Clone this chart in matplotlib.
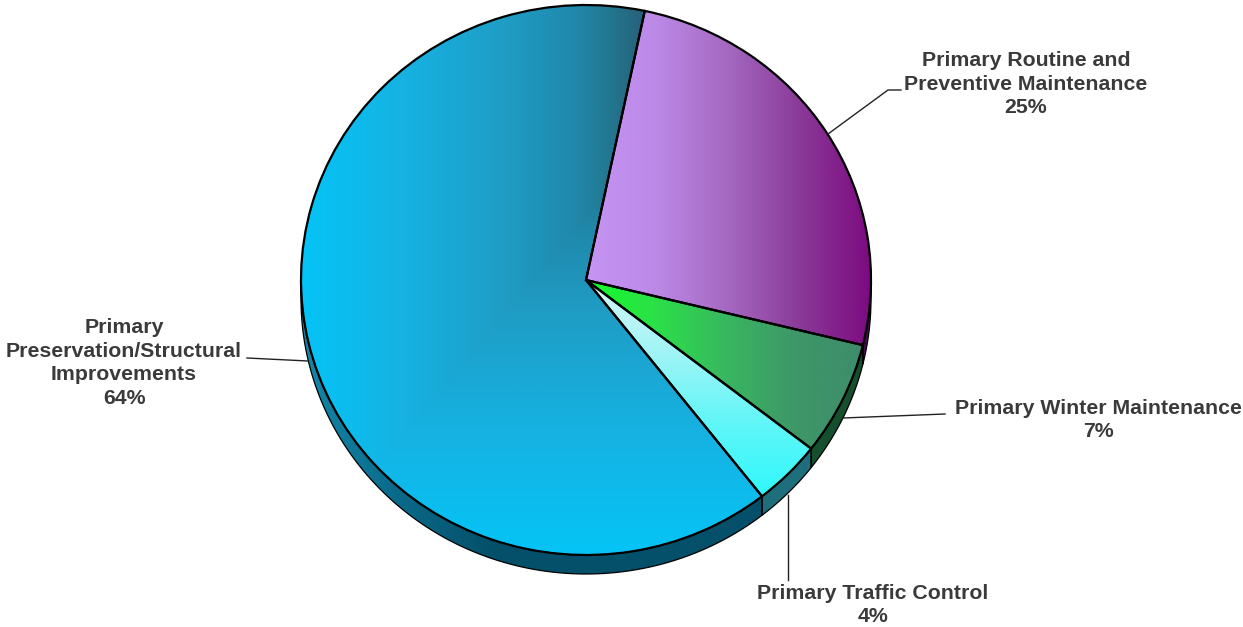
import numpy as np
import matplotlib
matplotlib.use('Agg')
import matplotlib.pyplot as plt
from matplotlib.colors import LinearSegmentedColormap
from matplotlib.lines import Line2D
from matplotlib.patches import Polygon

W, H = 1243, 627
CX, CY, RX, RY, DEPTH = 586, 280, 285, 275, 19

names = ['Primary Routine and\nPreventive Maintenance', 'Primary Winter Maintenance',
         'Primary Traffic Control', 'Primary\nPreservation/Structural\nImprovements']
shares = [25.5, 6.7, 3.9, 63.9]
percents = ['25%', '7%', '4%', '64%']
start_angle = 78.1

plt.rcParams['font.family'] = ['Liberation Sans', 'DejaVu Sans']

fig = plt.figure(figsize=(W / 100, H / 100), dpi=100)
ax = fig.add_axes([0, 0, 1, 1])
wedges, _ = ax.pie(shares, startangle=start_angle, counterclock=False, radius=1,
                   wedgeprops=dict(facecolor='none', edgecolor='black', linewidth=1.6, zorder=5))
ax.set_aspect('auto')
# unit circle maps onto an ellipse in pixels
ax.set_xlim(-CX / RX, (W - CX) / RX)
ax.set_ylim((CY - H) / RY, CY / RY)
ax.axis('off')

xs = (np.arange(W) + 0.5 - CX) / RX
ys = (CY - np.arange(H) - 0.5) / RY
gx, gy = np.meshgrid(xs, ys)
extent = (xs[0], xs[-1], ys[-1], ys[0])


def fill(t, colors, clip, zorder=2):
    cm = LinearSegmentedColormap.from_list('g', colors)
    im = ax.imshow(np.clip(t, 0, 1), cmap=cm, vmin=0, vmax=1, extent=extent, origin='upper',
                   aspect='auto', zorder=zorder, interpolation='bilinear')
    im.set_clip_path(clip)


def arc_edges():
    a = start_angle
    out = []
    for s in shares:
        out.append((a - s * 3.6, a))
        a -= s * 3.6
    return out


def side(a0, a1):
    # rim of a slice, only where the arc faces the viewer
    a0, a1 = a0 % 360, a1 % 360
    if a1 <= a0:
        a1 += 360
    lo, hi = max(a0, 180), min(a1, 360)
    th = np.radians(np.linspace(lo, hi, 120))
    d = DEPTH / RY
    top = np.c_[np.cos(th), np.sin(th)]
    low = np.c_[np.cos(th[::-1]), np.sin(th[::-1]) - d]
    p = Polygon(np.r_[top, low], closed=True, facecolor='none', edgecolor='black',
                linewidth=0.9, zorder=4)
    ax.add_patch(p)
    return p


edges = arc_edges()

# faces
x0, x1 = (586 - CX) / RX, (871 - CX) / RX
fill((gx - x0) / (x1 - x0), ['#c595f4', '#bb88e6', '#a468c0', '#8a3a98', '#7d0a80'], wedges[0])
x1g = (862 - CX) / RX
fill((gx - x0) / (x1g - x0), ['#14fa2a', '#2ce048', '#38b860', '#3e9868', '#3e8c6c'], wedges[1])
y0, y1 = (CY - 281) / RY, (CY - 497) / RY
fill((gy - y0) / (y1 - y0), ['#d8f5f6', '#a0f4f6', '#60f6f8', '#30f8fb'], wedges[2])
# corner style blend for the big slice, darkest at its top right
xr, yt = (645 - CX) / RX, (CY - 146) / RY
t = np.maximum((xr - gx) / (344 / RX), (yt - gy) / (409 / RY))
cmap_pts = [(0, '#266078'), (0.1, '#23768f'), (0.2, '#2088aa'), (0.4, '#1f9cc4'),
            (0.7, '#16b2e2'), (1, '#05c4f6')]
cm = LinearSegmentedColormap.from_list('blue', cmap_pts)
im = ax.imshow(np.clip(t, 0, 1), cmap=cm, vmin=0, vmax=1, extent=extent, origin='upper',
               aspect='auto', zorder=2, interpolation='bilinear')
im.set_clip_path(wedges[3])

# rims
s0 = side(*edges[0])
fill(np.zeros_like(gx), ['#4a0a50', '#4a0a50'], s0)
s1 = side(*edges[1])
fill(np.zeros_like(gx), ['#14502e', '#14502e'], s1)
s2 = side(*edges[2])
fill(np.zeros_like(gx), ['#1f6e7c', '#1f6e7c'], s2)
s3 = side(*edges[3])
fill((gx - (301 - CX) / RX) / (190 / RX), ['#1488aa', '#0a6a8a', '#04506a'], s3)

# leader lines
leaders = [([828, 888, 901], [134, 90, 90]),
           ([843, 945], [418, 414]),
           ([788, 788], [495, 580]),
           ([247, 308], [358, 361])]
for lx, ly in leaders:
    fig.add_artist(Line2D(np.array(lx) / W, 1 - np.array(ly) / H, color='#222222', lw=1.0))

# labels
label_pos = [(1026, 84), (1098, 420), (873, 605), (124, 363)]
for name, pc, (lx, ly) in zip(names, percents, label_pos):
    fig.text(lx / W, 1 - ly / H, name + '\n' + pc, ha='center', va='center', fontsize=15.3,
             fontweight='bold', color='#3a3a3a', linespacing=1.33)

fig.savefig('out.png', dpi=100)
